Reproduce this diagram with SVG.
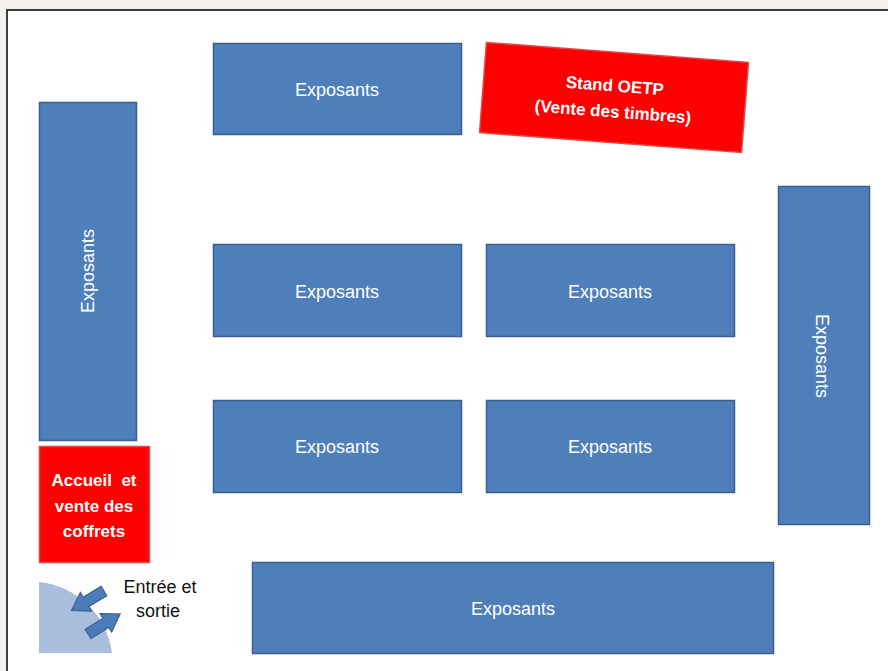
<svg xmlns="http://www.w3.org/2000/svg" width="888" height="671" viewBox="0 0 888 671">
  <style>
    .blue { fill: #4f7fbb; stroke: #3a5f8f; stroke-width: 1.5; }
    .red { fill: #ff0000; stroke: #e04848; stroke-width: 1.5; }
    .lbl { font-family: "Liberation Sans", Arial, sans-serif; font-size: 18px; fill: #ffffff; text-anchor: middle; dominant-baseline: central; }
    .rlbl { font-family: "Liberation Sans", Arial, sans-serif; font-size: 17px; font-weight: bold; fill: #ffffff; text-anchor: middle; dominant-baseline: central; }
    .blk { font-family: "Liberation Sans", Arial, sans-serif; font-size: 18px; fill: #111111; text-anchor: middle; dominant-baseline: central; }
    .arr { fill: #4a7cba; stroke: #36598a; stroke-width: 1; }
  </style>
  <defs>
    <path id="blockArrow" d="M0,-5.5 L21,-5.5 L21,-11 L38,0 L21,11 L21,5.5 L0,5.5 Z"/>
  </defs>
  <rect x="0" y="0" width="888" height="671" fill="#f4f0eb"/>
  <rect x="7" y="10" width="890" height="670" fill="#ffffff" stroke="#2a2a2a" stroke-width="1.8"/>

  <g id="expo-top">
    <rect class="blue" x="213.5" y="43.5" width="248" height="91"/>
    <text class="lbl" x="337" y="90">Exposants</text>
  </g>
  <g id="stand-oetp" transform="rotate(4.36 614 97.5)">
    <rect class="red" x="482.6" y="52.3" width="262.8" height="90.4"/>
    <text class="rlbl" x="614" y="86">Stand OETP</text>
    <text class="rlbl" x="614" y="112">(Vente des timbres)</text>
  </g>
  <g id="expo-left">
    <rect class="blue" x="39.5" y="102.5" width="97" height="338"/>
    <text class="lbl" transform="translate(88 271) rotate(-90)" x="0" y="0">Exposants</text>
  </g>
  <g id="expo-mid-1">
    <rect class="blue" x="213.5" y="244.5" width="248" height="92"/>
    <text class="lbl" x="337" y="292">Exposants</text>
  </g>
  <g id="expo-mid-2">
    <rect class="blue" x="486.5" y="244.5" width="248" height="92"/>
    <text class="lbl" x="610" y="292">Exposants</text>
  </g>
  <g id="expo-low-1">
    <rect class="blue" x="213.5" y="400.5" width="248" height="92"/>
    <text class="lbl" x="337" y="447">Exposants</text>
  </g>
  <g id="expo-low-2">
    <rect class="blue" x="486.5" y="400.5" width="248" height="92"/>
    <text class="lbl" x="610" y="447">Exposants</text>
  </g>
  <g id="expo-right">
    <rect class="blue" x="778.5" y="186.5" width="91" height="338"/>
    <text class="lbl" transform="translate(822 356) rotate(90)" x="0" y="0">Exposants</text>
  </g>
  <g id="expo-bottom">
    <rect class="blue" x="252.5" y="562.5" width="521" height="91"/>
    <text class="lbl" x="513" y="609">Exposants</text>
  </g>
  <g id="accueil">
    <rect class="red" x="39.5" y="446.5" width="110" height="116"/>
    <text class="rlbl" x="94" y="480" xml:space="preserve">Accueil  et</text>
    <text class="rlbl" x="94" y="506">vente des</text>
    <text class="rlbl" x="94" y="531">coffrets</text>
  </g>
  <g id="entree">
    <path d="M39,582 A82,82 0 0 1 112,653 L39,653 Z" fill="#a7bedc"/>
    <use href="#blockArrow" class="arr" transform="translate(104 591) rotate(149)"/>
    <use href="#blockArrow" class="arr" transform="translate(88 634) rotate(-32)"/>
    <text class="blk" x="160" y="587">Entrée et</text>
    <text class="blk" x="158" y="611">sortie</text>
  </g>
  <g id="connectors"></g>
</svg>
